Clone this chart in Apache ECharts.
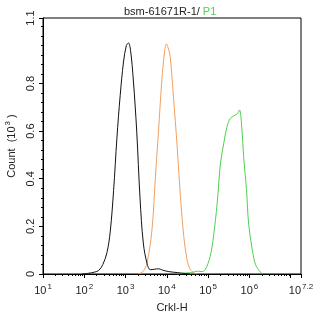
<!DOCTYPE html>
<html>
<head>
<meta charset="utf-8">
<script src="https://cdn.jsdelivr.net/npm/echarts@6/dist/echarts.min.js"></script>
<style>
  html, body { margin: 0; padding: 0; background: #fff; }
  #main { width: 314px; height: 317px; }
</style>
</head>
<body>
<div id="main"></div>
<script>
// x values are log10 of Crkl-H intensity, y values are count (10^3)
var blackLog = [1.95, 2.1, 2.25, 2.35, 2.45, 2.55, 2.63, 2.71, 2.79, 2.87, 2.95, 3.02, 3.07, 3.12, 3.19, 3.27, 3.35, 3.43, 3.52, 3.6, 3.7, 3.8, 3.9, 4.05, 4.25, 4.45, 4.55];
var blackCount = [0, 0.003, 0.008, 0.015, 0.04, 0.09, 0.18, 0.35, 0.57, 0.75, 0.89, 0.96, 0.97, 0.94, 0.81, 0.6, 0.32, 0.13, 0.045, 0.018, 0.02, 0.022, 0.016, 0.01, 0.006, 0.002, 0];

var orangeLog = [3.3, 3.42, 3.52, 3.64, 3.72, 3.8, 3.88, 3.95, 3.99, 4.03, 4.08, 4.16, 4.25, 4.33, 4.41, 4.49, 4.57, 4.65, 4.73];
var orangeCount = [0, 0.01, 0.046, 0.186, 0.4, 0.605, 0.815, 0.94, 0.966, 0.95, 0.913, 0.745, 0.535, 0.325, 0.158, 0.06, 0.018, 0.006, 0];

var greenLog = [4.24, 4.45, 4.6, 4.75, 4.85, 4.93, 5.05, 5.13, 5.22, 5.3, 5.38, 5.46, 5.54, 5.66, 5.72, 5.76, 5.82, 5.86, 5.93, 5.98, 6.07, 6.15, 6.27, 6.32];
var greenCount = [0, 0.004, 0.006, 0.012, 0.01, 0.018, 0.074, 0.158, 0.298, 0.466, 0.55, 0.62, 0.654, 0.668, 0.675, 0.689, 0.605, 0.493, 0.354, 0.214, 0.102, 0.039, 0.007, 0];

var xLabelTicks = [1, 2, 3, 4, 5, 6, 7.25];
var xMajorTicks = [1, 2, 3, 4, 5, 6, 7, 7.25];
var yLabelTicks = [0, 0.2, 0.4, 0.6, 0.8, 1.075];

function pairs(xs, ys) {
    var out = [];
    for (var i = 0; i < xs.length; i++) out.push([xs[i], ys[i]]);
    return out;
}

// minor ticks: 2..9 inside every decade
var xMinor = [];
for (var n = 1; n < 7; n++) {
    for (var k = 2; k < 10; k++) xMinor.push(n + Math.log10(k));
}
var yMinor = [];
for (var j = 1; j < 27; j++) {
    if (j % 5 !== 0) yMinor.push(+(j * 0.04).toFixed(2));
}
yMinor.push(1.0);

var chart = echarts.init(document.getElementById('main'));
var font = 'Liberation Sans, Arial, sans-serif';
var txt = '#222';

var option = {
    animation: false,
    title: {
        text: '{a|bsm-61671R-1/ }{g|P1}',
        left: 119,
        top: 1,
        textStyle: {
            fontWeight: 'normal',
            rich: {
                a: { fontSize: 11, color: txt, fontFamily: font, fontWeight: 'normal' },
                g: { fontSize: 11, color: '#4fd04f', fontFamily: font, fontWeight: 'normal' }
            }
        }
    },
    grid: {
        left: 43, right: 13, top: 18, bottom: 43,
        outerBoundsMode: 'none',
        containLabel: false,
        show: true, borderColor: '#000', borderWidth: 1
    },
    xAxis: [{
        type: 'value', min: 1, max: 7.25,
        axisLine: { onZero: false, lineStyle: { color: '#000', width: 1 } },
        splitLine: { show: false },
        axisTick: { customValues: xMajorTicks, length: 4, lineStyle: { color: '#000' } },
        axisLabel: {
            customValues: xLabelTicks,
            margin: 8,
            formatter: function (v) {
                var e = v > 7.1 ? '7.2' : String(v);
                return '{b|10}{s|' + e + '}';
            },
            rich: {
                b: { fontSize: 11, color: txt, fontFamily: font, verticalAlign: 'bottom', lineHeight: 14 },
                s: { fontSize: 8, color: txt, fontFamily: font, verticalAlign: 'bottom', lineHeight: 14, padding: [0, 0, 5, 1] }
            }
        },
        name: 'Crkl-H',
        nameLocation: 'middle',
        nameGap: 28,
        nameTextStyle: { fontSize: 11, color: txt, fontFamily: font }
    }, {
        type: 'value', min: 1, max: 7.25, position: 'bottom',
        axisLine: { show: false },
        splitLine: { show: false },
        axisLabel: { show: false },
        axisTick: { customValues: xMinor, length: 2, lineStyle: { color: '#000' } }
    }],
    yAxis: [{
        type: 'value', min: 0, max: 1.075,
        axisLine: { show: true, lineStyle: { color: '#000', width: 1 } },
        splitLine: { show: false },
        axisTick: { customValues: yLabelTicks, length: 4, lineStyle: { color: '#000' } },
        axisLabel: {
            customValues: yLabelTicks,
            rotate: 90,
            margin: 7,
            fontSize: 11, color: txt, fontFamily: font,
            formatter: function (v) {
                if (v > 1.05) return '1.1';
                return v === 0 ? '0' : v.toFixed(1);
            }
        },
        name: '{a|Count  (10}{s|3}{a| )}',
        nameLocation: 'middle',
        nameGap: 26,
        nameTextStyle: {
            rich: {
                a: { fontSize: 11, color: txt, fontFamily: font, verticalAlign: 'bottom', lineHeight: 14 },
                s: { fontSize: 8, color: txt, fontFamily: font, verticalAlign: 'bottom', lineHeight: 14, padding: [0, 0, 5, 1] }
            }
        }
    }, {
        type: 'value', min: 0, max: 1.075, position: 'left',
        axisLine: { show: false },
        splitLine: { show: false },
        axisLabel: { show: false },
        axisTick: { customValues: yMinor, length: 2, lineStyle: { color: '#000' } }
    }],
    series: [{
        type: 'line', name: 'P1', data: pairs(greenLog, greenCount),
        showSymbol: false, smooth: 0.35,
        lineStyle: { color: '#4fd04f', width: 1 }
    }, {
        type: 'line', name: 'isotype', data: pairs(orangeLog, orangeCount),
        showSymbol: false, smooth: 0.35,
        lineStyle: { color: '#f0a060', width: 1 }
    }, {
        type: 'line', name: 'blank', data: pairs(blackLog, blackCount),
        showSymbol: false, smooth: 0.35,
        lineStyle: { color: '#111', width: 1 }
    }]
};

chart.setOption(option);
</script>
</body>
</html>
